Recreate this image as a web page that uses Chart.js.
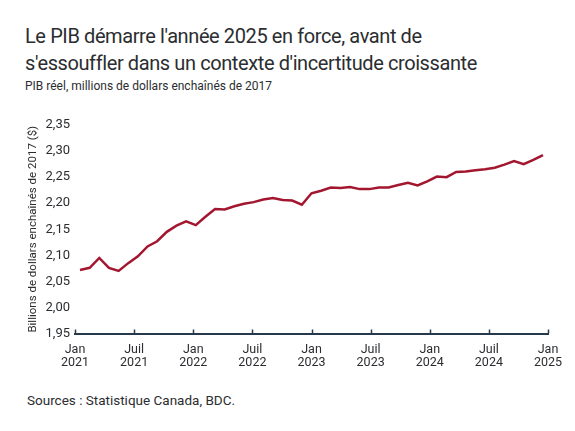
<!DOCTYPE html>
<html lang="fr">
<head>
<meta charset="utf-8">
<title>PIB réel</title>
<script src="https://cdn.jsdelivr.net/npm/chart.js@4.4.1/dist/chart.umd.min.js"></script>
<style>
  body {
    margin: 0;
    width: 575px;
    height: 431px;
    background: #fff;
    font-family: Roboto, 'Noto Sans', sans-serif;
    color: #2b2d30;
    position: relative;
    overflow: hidden;
  }
  #title {
    position: absolute;
    left: 25px;
    top: 23px;
    font-size: 20px;
    line-height: 27px;
    letter-spacing: -0.4px;
  }
  #subtitle {
    position: absolute;
    left: 25px;
    top: 79px;
    font-size: 12px;
  }
  #source {
    position: absolute;
    left: 27px;
    top: 392px;
    font-size: 13.5px;
  }
  #wrap {
    position: absolute;
    left: 0;
    top: 95px;
    width: 575px;
    height: 290px;
  }
</style>
</head>
<body>
<div id="title">Le PIB démarre l'année 2025 en force, avant de<br>s'essouffler dans un contexte d'incertitude croissante</div>
<div id="subtitle">PIB réel, millions de dollars enchaînés de 2017</div>
<div id="wrap"><canvas id="gdpChart"></canvas></div>
<div id="source">Sources : Statistique Canada, BDC.</div>

<script>
// monthly, Jan 2021 to Jan 2025
const MONTHS = [
  '2021-01', '2021-02', '2021-03', '2021-04', '2021-05', '2021-06', '2021-07', '2021-08', '2021-09', '2021-10', '2021-11', '2021-12',
  '2022-01', '2022-02', '2022-03', '2022-04', '2022-05', '2022-06', '2022-07', '2022-08', '2022-09', '2022-10', '2022-11', '2022-12',
  '2023-01', '2023-02', '2023-03', '2023-04', '2023-05', '2023-06', '2023-07', '2023-08', '2023-09', '2023-10', '2023-11', '2023-12',
  '2024-01', '2024-02', '2024-03', '2024-04', '2024-05', '2024-06', '2024-07', '2024-08', '2024-09', '2024-10', '2024-11', '2024-12',
  '2025-01',
];

const GDP = [
  2.072, 2.076, 2.095, 2.076, 2.070, 2.085, 2.098, 2.117, 2.127, 2.145, 2.157, 2.165,
  2.158, 2.174, 2.189, 2.188, 2.194, 2.199, 2.202, 2.207, 2.210, 2.206, 2.205, 2.197,
  2.219, 2.224, 2.230, 2.229, 2.231, 2.227, 2.227, 2.230, 2.230, 2.235, 2.239, 2.234,
  2.242, 2.251, 2.250, 2.260, 2.261, 2.263, 2.265, 2.268, 2.274, 2.281, 2.275, 2.283,
  2.292,
];

const TICK_LABELS = [
  ['Jan', '2021'], ['Juil', '2021'], ['Jan', '2022'], ['Juil', '2022'], ['Jan', '2023'],
  ['Juil', '2023'], ['Jan', '2024'], ['Juil', '2024'], ['Jan', '2025'],
];

const Y_MIN = 1.95;
const Y_MAX = 2.35;

const LINE_COLOR = '#a3162f';
const AXIS_COLOR = '#25394a';
const TEXT_COLOR = '#2b2d30';

// small upward tick marks on the x axis line
const axisTicks = {
  id: 'axisTicks',
  afterDraw(chart) {
    const { ctx, scales: { x, y } } = chart;
    const base = y.bottom;
    ctx.save();
    ctx.strokeStyle = AXIS_COLOR;
    ctx.lineWidth = 1.5;
    x.ticks.forEach((tick) => {
      const px = Math.round(x.getPixelForValue(tick.value)) + 0.5;
      ctx.beginPath();
      ctx.moveTo(px, base);
      ctx.lineTo(px, base - 4);
      ctx.stroke();
    });
    ctx.restore();
  },
};

const span = MONTHS.length - 1;
const pad = 0.52;

new Chart(document.getElementById('gdpChart'), {
  type: 'line',
  data: {
    datasets: [
      {
        label: 'PIB réel',
        data: GDP.map((value, i) => ({ x: i, y: value })),
        borderColor: LINE_COLOR,
        borderWidth: 2.5,
        pointRadius: 0,
        tension: 0,
        fill: false,
      },
    ],
  },
  options: {
    responsive: true,
    maintainAspectRatio: false,
    animation: false,
    layout: { padding: { left: 0, right: 27, top: 30, bottom: 14 } },
    plugins: {
      legend: { display: false },
      tooltip: { enabled: false },
    },
    scales: {
      x: {
        type: 'linear',
        min: -pad,
        max: span + pad,
        afterBuildTicks(axis) {
          const step = (span + 2 * pad) / (TICK_LABELS.length - 1);
          axis.ticks = TICK_LABELS.map((_, i) => ({ value: -pad + i * step }));
        },
        ticks: {
          autoSkip: false,
          maxRotation: 0,
          color: TEXT_COLOR,
          font: { family: 'Roboto', size: 12.5, lineHeight: 1.1 },
          padding: 1,
          callback: (value, index) => TICK_LABELS[index],
        },
        grid: { display: false },
        border: { display: true, color: AXIS_COLOR, width: 2 },
      },
      y: {
        min: Y_MIN,
        max: Y_MAX,
        afterFit(axis) {
          axis.width = 75;
        },
        ticks: {
          stepSize: 0.05,
          color: TEXT_COLOR,
          font: { family: 'Roboto', size: 13 },
          padding: 5,
          callback: (value) => value.toFixed(2).replace('.', ','),
        },
        grid: { display: false, drawTicks: false },
        border: { display: false },
        title: {
          display: true,
          text: 'Billions de dollars enchaînés de 2017 ($)',
          color: TEXT_COLOR,
          font: { family: 'Roboto', size: 11.5 },
          padding: { top: 26, bottom: 0 },
        },
      },
    },
  },
  plugins: [axisTicks],
});
</script>
</body>
</html>
